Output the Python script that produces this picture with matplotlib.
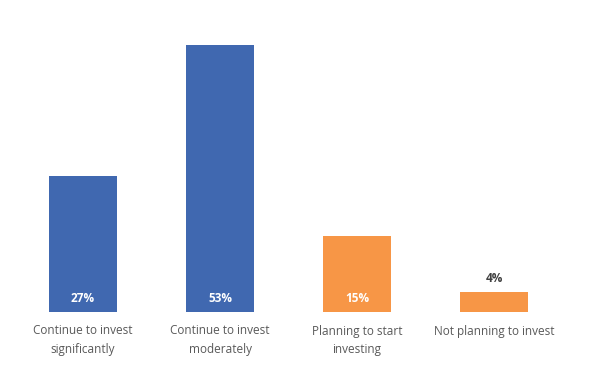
import matplotlib.pyplot as plt

categories = ['Continue to invest\nsignificantly', 'Continue to invest\nmoderately',
              'Planning to start\ninvesting', 'Not planning to invest']
values = [27, 53, 15, 4]
colors = ['#4068B0', '#4068B0', '#F79646', '#F79646']

plt.rcParams['font.family'] = ['Open Sans', 'DejaVu Sans']

fig = plt.figure(figsize=(5.89, 3.78), dpi=100)
ax = fig.add_axes([14.5/589, 66/378, 548/589, 267/378])
x = list(range(len(values)))
bars = ax.bar(x, values, width=0.5, color=colors)
ax.set_xlim(-0.5, 3.5)
ax.set_ylim(0, 53)

for xi, v in zip(x, values):
    if v >= 10:
        ax.text(xi, 2.6, f'{v}%', ha='center', va='center', color='white',
                fontsize=8.5, fontweight='bold')
    else:
        ax.text(xi, v + 2.6, f'{v}%', ha='center', va='center', color='#404040',
                fontsize=8.5, fontweight='bold')

ax.set_xticks(x)
ax.set_xticklabels(categories, fontsize=8.5, color='#595959', linespacing=1.6, va='top')
ax.tick_params(axis='x', length=0, pad=9)
ax.set_yticks([])
for s in ax.spines.values():
    s.set_visible(False)

fig.savefig('out.png', dpi=100)
